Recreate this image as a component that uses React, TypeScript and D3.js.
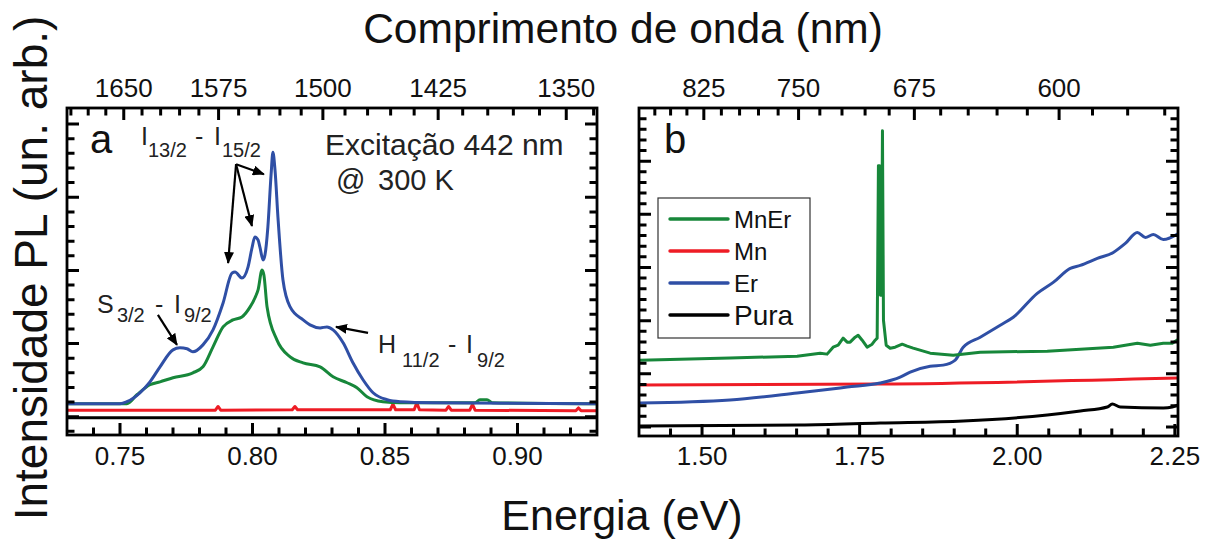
import * as d3 from "d3";

const FONT = "'Liberation Sans', Arial, Helvetica, sans-serif";
const HC = 1239.84; // eV·nm, converte comprimento de onda em energia

// ---- painel a (infravermelho), pares [energia eV, intensidade u.a.] ----
const ER_A: [number, number][] = [
  [0.7304, 0.177], [0.75, 0.177], [0.7526, 0.205], [0.7575, 0.327], [0.7613, 0.477],
  [0.7651, 0.682], [0.77, 0.914], [0.7726, 0.941], [0.7753, 0.928], [0.7775, 0.887],
  [0.7813, 0.982], [0.7851, 1.187], [0.7889, 1.555], [0.7923, 1.965], [0.7934, 1.978],
  [0.796, 1.896], [0.7983, 2.046], [0.7998, 2.306], [0.8009, 2.456], [0.8021, 2.415],
  [0.8028, 2.319], [0.804, 2.142], [0.8047, 2.21], [0.8058, 2.592], [0.807, 3.302],
  [0.8077, 3.615], [0.8085, 3.37], [0.8096, 2.729], [0.8115, 1.869], [0.8142, 1.501],
  [0.8191, 1.323], [0.8217, 1.255], [0.8255, 1.214], [0.8281, 1.228], [0.8304, 1.187],
  [0.8342, 1.01], [0.8379, 0.737], [0.8417, 0.505], [0.8455, 0.327], [0.8508, 0.232],
  [0.8557, 0.205], [0.8681, 0.191], [0.93, 0.177],
];
const MNER_A: [number, number][] = [
  [0.7304, 0.177], [0.7526, 0.177], [0.7564, 0.3], [0.7613, 0.437], [0.7651, 0.477],
  [0.77, 0.532], [0.7775, 0.6], [0.7813, 0.682], [0.7851, 0.955], [0.7889, 1.228],
  [0.7926, 1.323], [0.796, 1.364], [0.7991, 1.501], [0.8009, 1.623], [0.8021, 1.733],
  [0.8036, 2.005], [0.8043, 1.937], [0.8055, 1.501], [0.8092, 1.05], [0.8142, 0.819],
  [0.8191, 0.737], [0.8255, 0.682], [0.8304, 0.546], [0.8357, 0.464], [0.8394, 0.396],
  [0.8432, 0.273], [0.8492, 0.205], [0.8557, 0.191], [0.884, 0.191], [0.8858, 0.232],
  [0.8885, 0.232], [0.8904, 0.191], [0.93, 0.177],
];
const MN_A: [number, number][] = [
  [0.73, 0.09], [0.786, 0.09], [0.787, 0.14], [0.788, 0.09], [0.815, 0.095], [0.816, 0.14],
  [0.817, 0.095], [0.852, 0.095], [0.853, 0.17], [0.854, 0.095], [0.861, 0.095], [0.862, 0.19],
  [0.863, 0.095], [0.873, 0.09], [0.874, 0.14], [0.875, 0.09], [0.882, 0.09], [0.883, 0.17],
  [0.884, 0.09], [0.922, 0.08], [0.923, 0.12], [0.924, 0.08], [0.93, 0.08],
];
const PURA_A: [number, number][] = [[0.73, -0.015], [0.93, -0.015]];

// ---- painel b (visível) ----
const MNER_B: [number, number][] = [
  [1.4016, 1.257], [1.5444, 1.295], [1.6508, 1.332], [1.6873, 1.388], [1.6984, 1.37],
  [1.7079, 1.501], [1.7159, 1.538], [1.7238, 1.67], [1.7302, 1.595], [1.7349, 1.595],
  [1.7429, 1.689], [1.7476, 1.726], [1.754, 1.632], [1.7619, 1.501], [1.7698, 1.557],
  [1.7746, 1.632], [1.7778, 1.67], [1.7798, 4.916], [1.7814, 4.916], [1.783, 2.477],
  [1.7846, 2.477], [1.7862, 5.572], [1.7878, 2.008], [1.7921, 1.538], [1.7984, 1.482],
  [1.8063, 1.501], [1.8175, 1.557], [1.8254, 1.52], [1.8349, 1.482], [1.8619, 1.388],
  [1.8984, 1.351], [1.9413, 1.407], [2.0476, 1.426], [2.1524, 1.501], [2.1905, 1.576],
  [2.2111, 1.538], [2.2317, 1.576], [2.246, 1.576], [2.2556, 1.651],
];
const MN_B: [number, number][] = [
  [1.4016, 0.788], [1.7825, 0.807], [2.2556, 0.919],
];
const ER_B: [number, number][] = [
  [1.4016, 0.45], [1.5444, 0.507], [1.6508, 0.638], [1.7302, 0.75], [1.7825, 0.826],
  [1.8143, 0.938], [1.8302, 1.032], [1.8619, 1.144], [1.8825, 1.163], [1.9016, 1.257],
  [1.9143, 1.501], [1.9413, 1.689], [1.973, 1.914], [1.9937, 2.064], [2.0317, 2.514],
  [2.0571, 2.72], [2.0841, 2.983], [2.1, 3.039], [2.127, 3.171], [2.1524, 3.283],
  [2.1714, 3.452], [2.1905, 3.659], [2.2032, 3.565], [2.2159, 3.621], [2.2317, 3.527],
  [2.2556, 3.64],
];
const PURA_B: [number, number][] = [
  [1.4016, 0.019], [1.6556, 0.038], [1.7825, 0.075], [1.9143, 0.113], [2.0476, 0.225],
  [2.1, 0.3], [2.1429, 0.375], [2.1508, 0.432], [2.1635, 0.375], [2.2317, 0.356],
  [2.246, 0.375], [2.2556, 0.413],
];

// ---- eixos ----
const A_E_MAJOR = [0.75, 0.8, 0.85, 0.9];
const A_NM_MAJOR = [1650, 1575, 1500, 1425, 1350];
const B_E_MAJOR = [1.5, 1.75, 2.0, 2.25];
const B_NM_MAJOR = [825, 750, 675, 600];

const LEGEND = [
  { label: "MnEr", color: "#17873a", size: 24 },
  { label: "Mn", color: "#ee1c25", size: 24 },
  { label: "Er", color: "#2f4fa5", size: 24 },
  { label: "Pura", color: "#000000", size: 28 },
];
const COLOR: Record<string, string> = Object.fromEntries(LEGEND.map((d) => [d.label, d.color]));

type Box = { left: number; right: number; top: number; bottom: number };
type Lin = d3.ScaleLinear<number, number>;

// todos os ticks internos (4 lados) num único path
function tickPath(
  x: Lin, y: Lin, box: Box,
  eMinor: number[], eMajor: number[], nmMinor: number[], nmMajor: number[],
  vMinor: number[], vMajor: number[]
) {
  const p = d3.path();
  const inX = (v: number) => v > box.left + 2 && v < box.right - 2;
  const inY = (v: number) => v > box.top + 2 && v < box.bottom - 2;
  const isMaj = (arr: number[], v: number) => arr.some((m) => Math.abs(m - v) < 1e-6);
  const MAJ = 12;
  const MIN = 7.5;
  eMinor.forEach((e) => {
    const px = x(e);
    if (!inX(px)) return;
    p.moveTo(px, box.bottom);
    p.lineTo(px, box.bottom - (isMaj(eMajor, e) ? MAJ : MIN));
  });
  nmMinor.forEach((nm) => {
    const px = x(HC / nm);
    if (!inX(px)) return;
    p.moveTo(px, box.top);
    p.lineTo(px, box.top + (isMaj(nmMajor, nm) ? MAJ : MIN));
  });
  vMinor.forEach((v) => {
    const py = y(v);
    if (!inY(py)) return;
    const len = isMaj(vMajor, v) ? MAJ : MIN;
    p.moveTo(box.left, py);
    p.lineTo(box.left + len, py);
    p.moveTo(box.right, py);
    p.lineTo(box.right - len, py);
  });
  return p.toString();
}

export default function App() {
  const W = 1205;
  const H = 547;
  const A: Box = { left: 67, right: 597, top: 108, bottom: 435 };
  const B: Box = { left: 639, right: 1178, top: 108, bottom: 436 };

  const xa = d3.scaleLinear().domain([0.73, 0.93]).range([A.left, A.right]);
  const ya = d3.scaleLinear().domain([-0.25, 4.22]).range([A.bottom, A.top]);
  const xb = d3.scaleLinear().domain([1.4, 2.255]).range([B.left, B.right]);
  const yb = d3.scaleLinear().domain([-0.17, 6.0]).range([B.bottom, B.top]);

  const lineA = d3.line<[number, number]>().x((d) => xa(d[0])).y((d) => ya(d[1])).curve(d3.curveMonotoneX);
  const lineB = d3.line<[number, number]>().x((d) => xb(d[0])).y((d) => yb(d[1])).curve(d3.curveMonotoneX);
  const lineALin = d3.line<[number, number]>().x((d) => xa(d[0])).y((d) => ya(d[1]));
  const lineBLin = d3.line<[number, number]>().x((d) => xb(d[0])).y((d) => yb(d[1]));

  const ticksA = tickPath(
    xa, ya, A,
    d3.range(73, 94).map((i) => i / 100), A_E_MAJOR,
    d3.range(1335, 1711, 15), A_NM_MAJOR,
    d3.range(-1, 22).map((i) => +(i * 0.2).toFixed(2)), d3.range(0, 5)
  );
  const ticksB = tickPath(
    xb, yb, B,
    d3.range(28, 46).map((i) => +(i * 0.05).toFixed(2)), B_E_MAJOR,
    d3.range(555, 886, 15), B_NM_MAJOR,
    d3.range(0, 31).map((i) => +(i * 0.2).toFixed(2)), d3.range(0, 7)
  );

  const tickLabel = { fontFamily: FONT, fontSize: 26, fill: "#111", textAnchor: "middle" as const };
  const ann = { fontFamily: FONT, fill: "#222" };

  // setas do painel a, em coordenadas de dados [e0, v0, e1, v1]
  const arrows: [number, number, number, number][] = [
    [0.7938, 3.452, 0.7908, 2.101],
    [0.7938, 3.452, 0.7998, 2.606],
    [0.7938, 3.452, 0.8043, 3.315],
    [0.7643, 1.392, 0.7715, 0.982],
    [0.8436, 1.146, 0.8315, 1.228],
  ];

  const sx = (e: number) => xa(e);
  const sy = (v: number) => ya(v);

  const iLab = [sx(0.7579), sy(3.711)];
  const sLab = [sx(0.7413), sy(1.419)];
  const hLab = [sx(0.8474), sy(0.873)];

  return (
    <svg width={W} height={H} style={{ display: "block", position: "absolute", left: 0, top: 0, background: "#fff" }}>
      <defs>
        <clipPath id="clipA"><rect x={A.left} y={A.top} width={A.right - A.left} height={A.bottom - A.top} /></clipPath>
        <clipPath id="clipB"><rect x={B.left} y={B.top} width={B.right - B.left} height={B.bottom - B.top} /></clipPath>
        <marker id="arr" viewBox="0 0 12 10" refX="11" refY="5" markerWidth="12" markerHeight="10" markerUnits="userSpaceOnUse" orient="auto">
          <path d="M0,0 L12,5 L0,10 z" fill="#000" />
        </marker>
      </defs>
      <rect x={0} y={0} width={W} height={H} fill="#fff" />

      {/* títulos */}
      <text x={623} y={43} textAnchor="middle" fontFamily={FONT} fontSize={42.5} fill="#111">Comprimento de onda (nm)</text>
      <text x={622} y={530} textAnchor="middle" fontFamily={FONT} fontSize={43} fill="#111">Energia (eV)</text>
      <text transform="translate(47,268) rotate(-90)" textAnchor="middle" fontFamily={FONT} fontSize={46} fill="#111">Intensidade PL (un. arb.)</text>

      {/* ---------------- painel a ---------------- */}
      <g clipPath="url(#clipA)" fill="none" strokeWidth={3} strokeLinejoin="round">
        <path d={lineALin(PURA_A) ?? ""} stroke={COLOR.Pura} />
        <path d={lineALin(MN_A) ?? ""} stroke={COLOR.Mn} />
        <path d={lineA(MNER_A) ?? ""} stroke={COLOR.MnEr} />
        <path d={lineA(ER_A) ?? ""} stroke={COLOR.Er} />
      </g>
      <path d={ticksA} fill="none" stroke="#000" strokeWidth={3} />
      <rect x={A.left} y={A.top} width={A.right - A.left} height={A.bottom - A.top} fill="none" stroke="#000" strokeWidth={2.8} />
      {A_E_MAJOR.map((e) => (
        <text key={`al${e}`} x={xa(e)} y={465} {...tickLabel}>{e.toFixed(2)}</text>
      ))}
      {A_NM_MAJOR.map((nm) => (
        <text key={`an${nm}`} x={xa(HC / nm)} y={97} {...tickLabel}>{nm}</text>
      ))}

      <text x={sx(0.7387)} y={sy(3.602)} fontFamily={FONT} fontSize={40} fill="#111">a</text>
      <text x={sx(0.8274)} y={sy(3.574)} fontSize={30} {...ann}>Excitação 442 nm</text>
      <text x={sx(0.8315)} y={sy(3.097)} fontSize={29} {...ann}>@</text>
      <text x={sx(0.8474)} y={sy(3.097)} fontSize={29} {...ann}>300 K</text>

      <g {...ann}>
        <text x={iLab[0]} y={iLab[1]} fontSize={25}>I</text>
        <text x={iLab[0] + 7} y={iLab[1] + 12} fontSize={20}>13/2</text>
        <text x={iLab[0] + 54} y={iLab[1]} fontSize={25}>-</text>
        <text x={iLab[0] + 73} y={iLab[1]} fontSize={25}>I</text>
        <text x={iLab[0] + 81} y={iLab[1] + 12} fontSize={20}>15/2</text>

        <text x={sLab[0]} y={sLab[1]} fontSize={25}>S</text>
        <text x={sLab[0] + 20} y={sLab[1] + 9} fontSize={20}>3/2</text>
        <text x={sLab[0] + 58} y={sLab[1]} fontSize={25}>-</text>
        <text x={sLab[0] + 77} y={sLab[1]} fontSize={25}>I</text>
        <text x={sLab[0] + 87} y={sLab[1] + 9} fontSize={20}>9/2</text>

        <text x={hLab[0]} y={hLab[1]} fontSize={25}>H</text>
        <text x={hLab[0] + 24} y={hLab[1] + 14} fontSize={20}>11/2</text>
        <text x={hLab[0] + 70} y={hLab[1]} fontSize={25}>-</text>
        <text x={hLab[0] + 88} y={hLab[1]} fontSize={25}>I</text>
        <text x={hLab[0] + 99} y={hLab[1] + 14} fontSize={20}>9/2</text>
      </g>
      {arrows.map(([e0, v0, e1, v1], i) => (
        <line key={`ar${i}`} x1={sx(e0)} y1={sy(v0)} x2={sx(e1)} y2={sy(v1)} stroke="#000" strokeWidth={2.2} markerEnd="url(#arr)" />
      ))}

      {/* ---------------- painel b ---------------- */}
      <g clipPath="url(#clipB)" fill="none" strokeWidth={3} strokeLinejoin="round">
        <path d={lineB(PURA_B) ?? ""} stroke={COLOR.Pura} />
        <path d={lineB(MN_B) ?? ""} stroke={COLOR.Mn} />
        <path d={lineB(ER_B) ?? ""} stroke={COLOR.Er} />
        <path d={lineBLin(MNER_B) ?? ""} stroke={COLOR.MnEr} />
      </g>
      <path d={ticksB} fill="none" stroke="#000" strokeWidth={3} />
      <rect x={B.left} y={B.top} width={B.right - B.left} height={B.bottom - B.top} fill="none" stroke="#000" strokeWidth={2.8} />
      {B_E_MAJOR.map((e) => (
        <text key={`bl${e}`} x={xb(e)} y={465} {...tickLabel}>{e.toFixed(2)}</text>
      ))}
      {B_NM_MAJOR.map((nm) => (
        <text key={`bn${nm}`} x={xb(HC / nm)} y={97} {...tickLabel}>{nm}</text>
      ))}
      <text x={B.left + 25} y={153} fontFamily={FONT} fontSize={40} fill="#111">b</text>

      {/* legenda */}
      <g>
        <rect x={658} y={198} width={152} height={140} fill="#fff" stroke="#333" strokeWidth={1.2} />
        {LEGEND.map((d, i) => {
          const cy = 219 + i * 32;
          return (
            <g key={d.label}>
              <line x1={670} x2={728} y1={cy} y2={cy} stroke={d.color} strokeWidth={3.4} strokeLinecap="round" />
              <text x={734} y={cy + 9 + (d.size - 24) * 0.3} fontFamily={FONT} fontSize={d.size} fill="#111">{d.label}</text>
            </g>
          );
        })}
      </g>
    </svg>
  );
}
